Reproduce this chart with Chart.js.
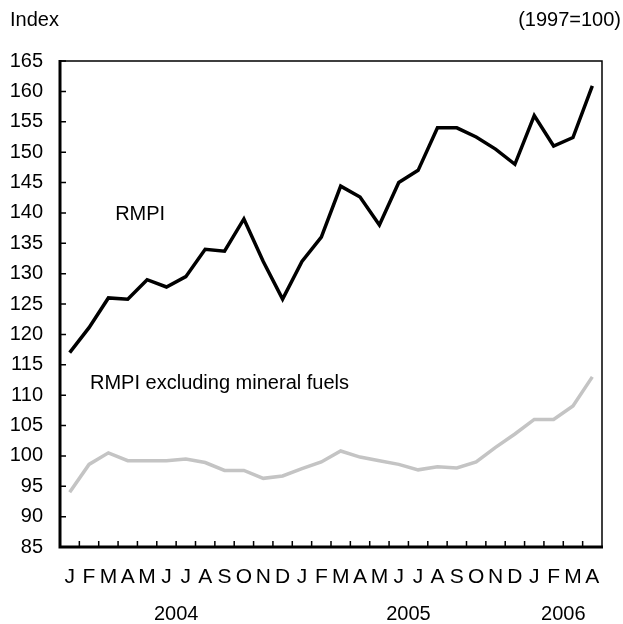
<!DOCTYPE html>
<html>
<head>
<meta charset="utf-8">
<script src="https://cdn.jsdelivr.net/npm/chart.js@4"></script>
<style>
  body { margin: 0; background: #fff; }
  canvas { display: block; }
</style>
</head>
<body>
<canvas id="chart" width="623" height="624"></canvas>
<script>
// Monthly data, Jan 2004 - Apr 2006
const months = ['J', 'F', 'M', 'A', 'M', 'J', 'J', 'A', 'S', 'O', 'N', 'D',
                'J', 'F', 'M', 'A', 'M', 'J', 'J', 'A', 'S', 'O', 'N', 'D',
                'J', 'F', 'M', 'A'];
const rmpi = [117, 121.1, 126, 125.8, 129, 127.8, 129.5, 134, 133.7, 139, 132, 125.8,
              132, 136, 144.4, 142.6, 138, 145, 147, 154, 154, 152.5, 150.5, 148,
              156, 151, 152.4, 160.9];
const rmpiExFuels = [94, 98.6, 100.5, 99.2, 99.2, 99.2, 99.5, 98.9, 97.6, 97.6, 96.3, 96.7,
                     97.9, 99, 100.8, 99.8, 99.2, 98.6, 97.7, 98.2, 98, 99, 101.4, 103.6,
                     106, 106, 108.2, 113];
// years: label + first/last month index
const years = [['2004', 0, 11], ['2005', 12, 23], ['2006', 24, 27]];
// series labels anchored in data units: text, month index, value
const seriesLabels = [['RMPI', 2.35, 138.8], ['RMPI excluding mineral fuels', 1.05, 111]];

const FONT = "'Liberation Sans', Arial, Helvetica, sans-serif";

const frame = {
    id: 'frame',
    afterDraw(chart) {
        const { ctx, chartArea: a, scales: { x, y } } = chart;
        ctx.save();
        ctx.strokeStyle = '#000';
        ctx.fillStyle = '#000';

        // thin top and right border
        ctx.lineWidth = 1.5;
        ctx.beginPath();
        ctx.moveTo(a.left, a.top);
        ctx.lineTo(a.right, a.top);
        ctx.lineTo(a.right, a.bottom);
        ctx.stroke();

        // heavy left and bottom axes
        ctx.lineWidth = 3;
        ctx.beginPath();
        ctx.moveTo(a.left, a.top - 1);
        ctx.lineTo(a.left, a.bottom);
        ctx.lineTo(a.right + 1, a.bottom);
        ctx.stroke();

        // inward tick marks
        ctx.lineWidth = 1.5;
        ctx.beginPath();
        y.ticks.forEach(t => {
            const py = y.getPixelForValue(t.value);
            ctx.moveTo(a.left, py);
            ctx.lineTo(a.left + 6, py);
        });
        for (let i = 1; i < months.length; i++) {
            const px = x.getPixelForValue(i - 0.5);
            ctx.moveTo(px, a.bottom);
            ctx.lineTo(px, a.bottom - 6);
        }
        ctx.stroke();

        // series labels
        ctx.font = '20px ' + FONT;
        ctx.textAlign = 'left';
        ctx.textBaseline = 'alphabetic';
        seriesLabels.forEach(([txt, xi, v]) => {
            ctx.fillText(txt, x.getPixelForValue(xi), y.getPixelForValue(v));
        });

        // year labels
        ctx.textAlign = 'center';
        ctx.textBaseline = 'middle';
        years.forEach(([txt, i0, i1]) => {
            const px = (x.getPixelForValue(i0) + x.getPixelForValue(i1)) / 2;
            ctx.fillText(txt, px, 614);
        });

        // unit captions
        ctx.textAlign = 'left';
        ctx.fillText('Index', 10, 20);
        ctx.textAlign = 'right';
        ctx.fillText('(1997=100)', 621, 20);
        ctx.restore();
    }
};

new Chart(document.getElementById('chart'), {
    type: 'line',
    data: {
        labels: months,
        datasets: [{
            label: 'RMPI',
            data: rmpi,
            borderColor: '#000',
            borderWidth: 3.5,
            pointRadius: 0,
            tension: 0
        }, {
            label: 'RMPI excluding mineral fuels',
            data: rmpiExFuels,
            borderColor: '#c4c4c4',
            borderWidth: 3.5,
            pointRadius: 0,
            tension: 0
        }]
    },
    options: {
        responsive: false,
        animation: false,
        layout: { padding: { left: 0, top: 61, right: 21, bottom: 0 } },
        plugins: {
            legend: { display: false },
            tooltip: { enabled: false }
        },
        scales: {
            x: {
                offset: true,
                grid: { display: false, drawTicks: false, offset: true },
                border: { display: false },
                ticks: {
                    autoSkip: false,
                    maxRotation: 0,
                    padding: 18,
                    color: '#000',
                    font: { family: "'Liberation Sans Narrow', " + FONT, size: 21 }
                },
                afterFit(scale) { scale.height = 77; }
            },
            y: {
                min: 85,
                max: 165,
                grid: { display: false, drawTicks: false },
                border: { display: false },
                ticks: {
                    stepSize: 5,
                    padding: 17,
                    color: '#000',
                    font: { family: FONT, size: 20 }
                },
                afterFit(scale) { scale.width = 60; }
            }
        }
    },
    plugins: [frame]
});
</script>
</body>
</html>
